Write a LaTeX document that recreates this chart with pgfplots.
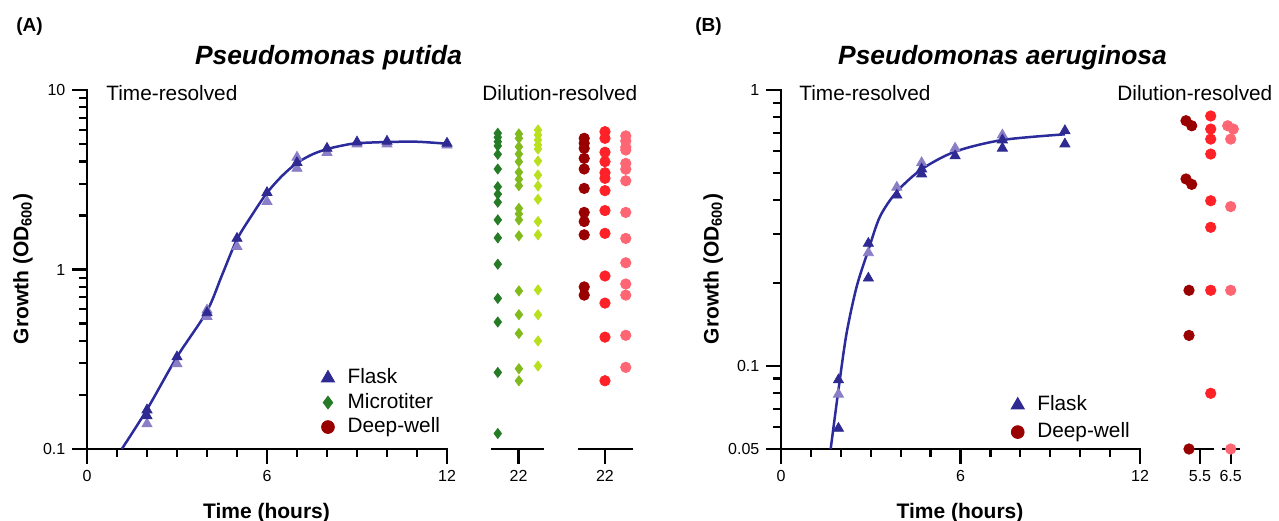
\documentclass[border=0pt]{standalone}
\usepackage{fontspec}
\setmainfont{Liberation Sans}
\usepackage{pgfplots}
\pgfplotsset{compat=1.18}

\definecolor{flask}{HTML}{2E2A92}
\definecolor{flasklight}{HTML}{8A7EC6}
\definecolor{fitline}{HTML}{2B2B9C}
\definecolor{mtA}{HTML}{267B27}
\definecolor{mtB}{HTML}{80BA1C}
\definecolor{mtC}{HTML}{B8E01C}
\definecolor{dwA}{HTML}{990000}
\definecolor{dwB}{HTML}{FF2128}
\definecolor{dwC}{HTML}{FF6673}

\newcommand\tickfont{\fontsize{8}{9}\selectfont}
\newcommand\txtfont{\fontsize{10.4}{12}\selectfont}

% 0.5pt per pixel of the reference; axes placed at pixel*0.5pt, y from bottom
\pgfplotsset{
  base/.style={
    scale only axis,
    clip=false,
    ticklabel style={font=\tickfont},
    axis x line*=bottom,
    xtick pos=bottom, ytick pos=left,
    tick align=outside,
    major tick length=7.3pt,
    minor tick length=4pt,
    every tick/.append style={black, line width=1.1pt},
    axis line style={line width=1.2pt, line cap=rect},
  },
  tri/.style={only marks, mark=triangle*, mark size=2.9pt},
  dia/.style={only marks, mark=diamond*, mark size=2.5pt},
  dot/.style={only marks, mark=*, mark size=2.6pt},
  leg/.style={
    legend cell align=left,
    legend style={draw=none, fill=none, font=\txtfont, inner sep=0pt,
      nodes={inner sep=1pt, text height=7.5pt, text depth=2pt}},
  },
}
\tikzset{tk/.style={black, line width=1.1pt}}

\begin{document}
\begin{tikzpicture}
\useasboundingbox (0,0) rectangle (639.5pt,260pt);

% ---------------- (A) time-resolved ----------------
\begin{axis}[base, leg, at={(43.5pt,35.5pt)}, anchor=south west,
  width=180pt, height=179.5pt, axis y line*=left,
  xmin=0, xmax=12, ymode=log, ymin=0.1, ymax=10,
  xtick={0,6,12}, xticklabels={0,6,12}, minor xtick={1,2,3,4,5,7,8,9,10,11},
  ytick={0.1,1,10}, yticklabels={0.1,1,10},
  minor ytick={0.2,0.3,0.4,0.5,0.6,0.7,0.8,0.9,2,3,4,5,6,7,8,9},
  legend style={at={(0.650,0.028)}, anchor=south west, row sep=0.75pt},
]
\addplot[fitline, line width=1.25pt, smooth, forget plot] coordinates {
  (1.16,0.1) (1.99,0.165) (2.99,0.324) (3.99,0.582) (4.5,0.93) (4.99,1.46)
  (5.49,2.0) (5.99,2.66) (6.5,3.32) (6.99,3.91) (7.5,4.37) (7.99,4.68)
  (8.5,4.9) (8.99,5.05) (9.99,5.13) (10.99,5.15) (11.99,5.02)};
\addplot[tri, flasklight, forget plot] coordinates {
  (2,0.138) (3,0.298) (4,0.547) (4,0.594) (5,1.34) (6,2.39) (7,4.22)
  (7,3.66) (8,4.48) (9,5.0) (10,5.0) (12,4.93)};
\addplot[tri, flask, forget plot] coordinates {
  (2,0.165) (2,0.153) (3,0.326) (4,0.574) (5,1.49) (6,2.68) (7,3.94)
  (8,4.73) (9,5.13) (10,5.18) (12,5.05)};
\addlegendimage{only marks, mark=triangle*, mark size=3.8pt, flask}
\addlegendentry{\hspace{5.5pt}Flask}
\addlegendimage{only marks, mark=diamond*, mark size=3.2pt, mtA}
\addlegendentry{\hspace{5.5pt}Microtiter}
\addlegendimage{only marks, mark=*, mark size=3.2pt, dwA}
\addlegendentry{\hspace{5.5pt}Deep-well}
% tick marks
\pgfplotsinvokeforeach{0,6,12}{\draw[tk] (axis cs:#1,0.1) -- ++(0pt,-7.3pt);}
\pgfplotsinvokeforeach{1,2,3,4,5,7,8,9,10,11}{\draw[tk] (axis cs:#1,0.1) -- ++(0pt,-4pt);}
\pgfplotsinvokeforeach{0.1,1,10}{\draw[tk] (axis cs:0,#1) -- ++(-7.3pt,0pt);}
\pgfplotsinvokeforeach{0.2,0.3,0.4,0.5,0.6,0.7,0.8,0.9,2,3,4,5,6,7,8,9}{\draw[tk] (axis cs:0,#1) -- ++(-4pt,0pt);}
\end{axis}

% ---------------- (A) dilution-resolved, microtiter ----------------
\begin{axis}[base, at={(246pt,35.5pt)}, anchor=south west,
  width=25.5pt, height=179.5pt, axis y line=none,
  xmin=-1.305, xmax=1.207, ymode=log, ymin=0.1, ymax=10,
  xtick={0}, xticklabels={22}, minor xtick={}, ytick=\empty,
]
\addplot[dia, mtA] coordinates {
  (-1.02,5.74) (-1.02,5.45) (-1.02,5.15) (-1.02,4.88) (-1.02,4.38) (-1.02,3.63)
  (-1.02,2.89) (-1.02,2.63) (-1.02,2.37) (-1.02,1.89) (-1.02,1.50) (-1.02,1.07)
  (-1.02,0.69) (-1.02,0.51) (-1.02,0.267) (-1.02,0.122)};
\addplot[dia, mtB] coordinates {
  (0.02,5.69) (0.02,5.38) (0.02,4.83) (0.02,4.40) (0.02,3.99) (0.02,3.48)
  (0.02,3.18) (0.02,2.93) (0.02,2.19) (0.02,2.04) (0.02,1.89) (0.02,1.54)
  (0.02,0.76) (0.02,0.56) (0.02,0.44) (0.02,0.28) (0.02,0.24)};
\addplot[dia, mtC] coordinates {
  (0.96,5.99) (0.96,5.62) (0.96,5.27) (0.96,4.94) (0.96,4.69) (0.96,4.02)
  (0.96,3.36) (0.96,2.92) (0.96,2.46) (0.96,1.85) (0.96,1.56) (0.96,0.77)
  (0.96,0.56) (0.96,0.40) (0.96,0.29)};
\draw[tk] (axis cs:0,0.1) -- ++(0pt,-7.3pt);
\end{axis}

% ---------------- (A) dilution-resolved, deep-well ----------------
\begin{axis}[base, at={(289.5pt,35.5pt)}, anchor=south west,
  width=26.5pt, height=179.5pt, axis y line=none,
  xmin=-1.25, xmax=1.30, ymode=log, ymin=0.1, ymax=10,
  xtick={0}, xticklabels={22}, minor xtick={}, ytick=\empty,
]
\addplot[dot, dwA] coordinates {
  (-1,5.38) (-1,5.05) (-1,4.73) (-1,4.16) (-1,3.63) (-1,2.83) (-1,2.08)
  (-1,1.85) (-1,1.56) (-1,0.80) (-1,0.72)};
\addplot[dot, dwB] coordinates {
  (0,5.86) (0,5.38) (0,4.50) (0,3.99) (0,3.46) (0,3.22) (0,2.75) (0,2.13)
  (0,1.59) (0,0.92) (0,0.65) (0,0.42) (0,0.24)};
\addplot[dot, dwC] coordinates {
  (1,5.55) (1,5.2) (1,4.8) (1,4.63) (1,3.90) (1,3.62) (1,3.12) (1,2.08)
  (1,1.49) (1,1.09) (1,0.83) (1,0.72) (1,0.43) (1,0.285)};
\draw[tk] (axis cs:0,0.1) -- ++(0pt,-7.3pt);
\end{axis}

% ---------------- (B) time-resolved ----------------
\begin{axis}[base, leg, at={(390.5pt,35.5pt)}, anchor=south west,
  width=179.5pt, height=179.5pt, axis y line*=left,
  xmin=0, xmax=12, ymode=log, ymin=0.05, ymax=1,
  xtick={0,6,12}, xticklabels={0,6,12}, minor xtick={1,2,3,4,5,7,8,9,10,11},
  ytick={0.05,0.1,1}, yticklabels={0.05,0.1,1},
  minor ytick={0.06,0.07,0.08,0.09,0.2,0.3,0.4,0.5,0.6,0.7,0.8,0.9},
  legend style={at={(0.640,0.014)}, anchor=south west, row sep=2pt},
]
\addplot[fitline, line width=1.25pt, smooth, forget plot] coordinates {
  (1.66,0.05) (1.92,0.0819) (2.19,0.131) (2.53,0.194) (2.92,0.263)
  (3.31,0.348) (3.87,0.428) (4.70,0.516) (5.82,0.598) (7.40,0.659) (9.49,0.691)};
\addplot[tri, flasklight, forget plot] coordinates {
  (1.92,0.079) (2.92,0.257) (3.87,0.444) (4.7,0.545) (5.82,0.615) (7.4,0.687)};
\addplot[tri, flask, forget plot] coordinates {
  (1.92,0.089) (1.92,0.0594) (2.92,0.278) (2.92,0.208) (3.87,0.416)
  (4.7,0.517) (4.7,0.496) (5.82,0.577) (7.4,0.659) (7.4,0.615)
  (9.49,0.712) (9.49,0.637)};
\addlegendimage{only marks, mark=triangle*, mark size=3.8pt, flask}
\addlegendentry{\hspace{5.5pt}Flask}
\addlegendimage{only marks, mark=*, mark size=3.2pt, dwA}
\addlegendentry{\hspace{5.5pt}Deep-well}
\pgfplotsinvokeforeach{0,6,12}{\draw[tk] (axis cs:#1,0.05) -- ++(0pt,-7.3pt);}
\pgfplotsinvokeforeach{1,2,3,4,5,7,8,9,10,11}{\draw[tk] (axis cs:#1,0.05) -- ++(0pt,-4pt);}
\pgfplotsinvokeforeach{0.05,0.1,1}{\draw[tk] (axis cs:0,#1) -- ++(-7.3pt,0pt);}
\pgfplotsinvokeforeach{0.06,0.07,0.08,0.09,0.2,0.3,0.4,0.5,0.6,0.7,0.8,0.9}{\draw[tk] (axis cs:0,#1) -- ++(-4pt,0pt);}
\end{axis}

% ---------------- (B) dilution-resolved ----------------
\begin{axis}[base, at={(596.5pt,35.5pt)}, anchor=south west,
  width=10pt, height=179.5pt, axis y line=none,
  xmin=-7, xmax=13, ymode=log, ymin=0.05, ymax=1,
  xtick={0}, xticklabels={5.5}, minor xtick={}, ytick=\empty,
]
\addplot[dot, dwA] coordinates {
  (-14,0.774) (-8.3,0.742) (-14,0.476) (-8.3,0.455) (-11,0.188) (-11,0.129) (-11,0.05)};
\addplot[dot, dwB] coordinates {
  (10.7,0.805) (10.7,0.722) (10.7,0.664) (10.7,0.586) (10.7,0.397)
  (10.7,0.318) (10.7,0.188) (10.7,0.0796)};
\draw[tk] (axis cs:0,0.05) -- ++(0pt,-7.3pt);
\end{axis}
\begin{axis}[base, at={(611.5pt,35.5pt)}, anchor=south west,
  width=8pt, height=179.5pt, axis y line=none,
  xmin=-7.7, xmax=8.3, ymode=log, ymin=0.05, ymax=1,
  xtick={0}, xticklabels={6.5}, minor xtick={}, ytick=\empty,
]
\addplot[dot, dwC] coordinates {
  (-3,0.742) (2.6,0.722) (0,0.664) (0,0.378) (0,0.188) (0,0.05)};
\draw[tk] (axis cs:0,0.05) -- ++(0pt,-7.3pt);
\end{axis}

% ---------------- text (pixel coordinates, y downwards) ----------------
\begin{scope}[x=0.5pt, y=-0.5pt, shift={(0pt,260pt)}]
\node[anchor=base west, inner sep=0pt, font=\bfseries\fontsize{9.5}{11}\selectfont] at (16,31.5) {(A)};
\node[anchor=base west, inner sep=0pt, font=\bfseries\fontsize{9.5}{11}\selectfont] at (695,31.5) {(B)};
\node[anchor=base, font=\bfseries\itshape\fontsize{13.2}{15}\selectfont] at (328.5,64.3) {Pseudomonas putida};
\node[anchor=base, font=\bfseries\itshape\fontsize{13.2}{15}\selectfont] at (1002.5,64.3) {Pseudomonas aeruginosa};
\node[anchor=base west, inner sep=0pt, font=\txtfont] at (106,101) {Time-resolved};
\node[anchor=base west, inner sep=0pt, font=\txtfont] at (482,101) {Dilution-resolved};
\node[anchor=base west, inner sep=0pt, font=\txtfont] at (799,101) {Time-resolved};
\node[anchor=base west, inner sep=0pt, font=\txtfont] at (1117,101) {Dilution-resolved};
\node[anchor=base, inner sep=0pt, font=\bfseries\fontsize{10.5}{12}\selectfont] at (266.5,518) {Time (hours)};
\node[anchor=base, inner sep=0pt, font=\bfseries\fontsize{10.5}{12}\selectfont] at (960,518) {Time (hours)};
\node[anchor=base, rotate=90, inner sep=0pt, font=\bfseries\fontsize{10.5}{12}\selectfont] at (28.3,269) {Growth (OD\textsubscript{600})};
\node[anchor=base, rotate=90, inner sep=0pt, font=\bfseries\fontsize{10.5}{12}\selectfont] at (718.5,269) {Growth (OD\textsubscript{600})};
\end{scope}
\end{tikzpicture}
\end{document}
